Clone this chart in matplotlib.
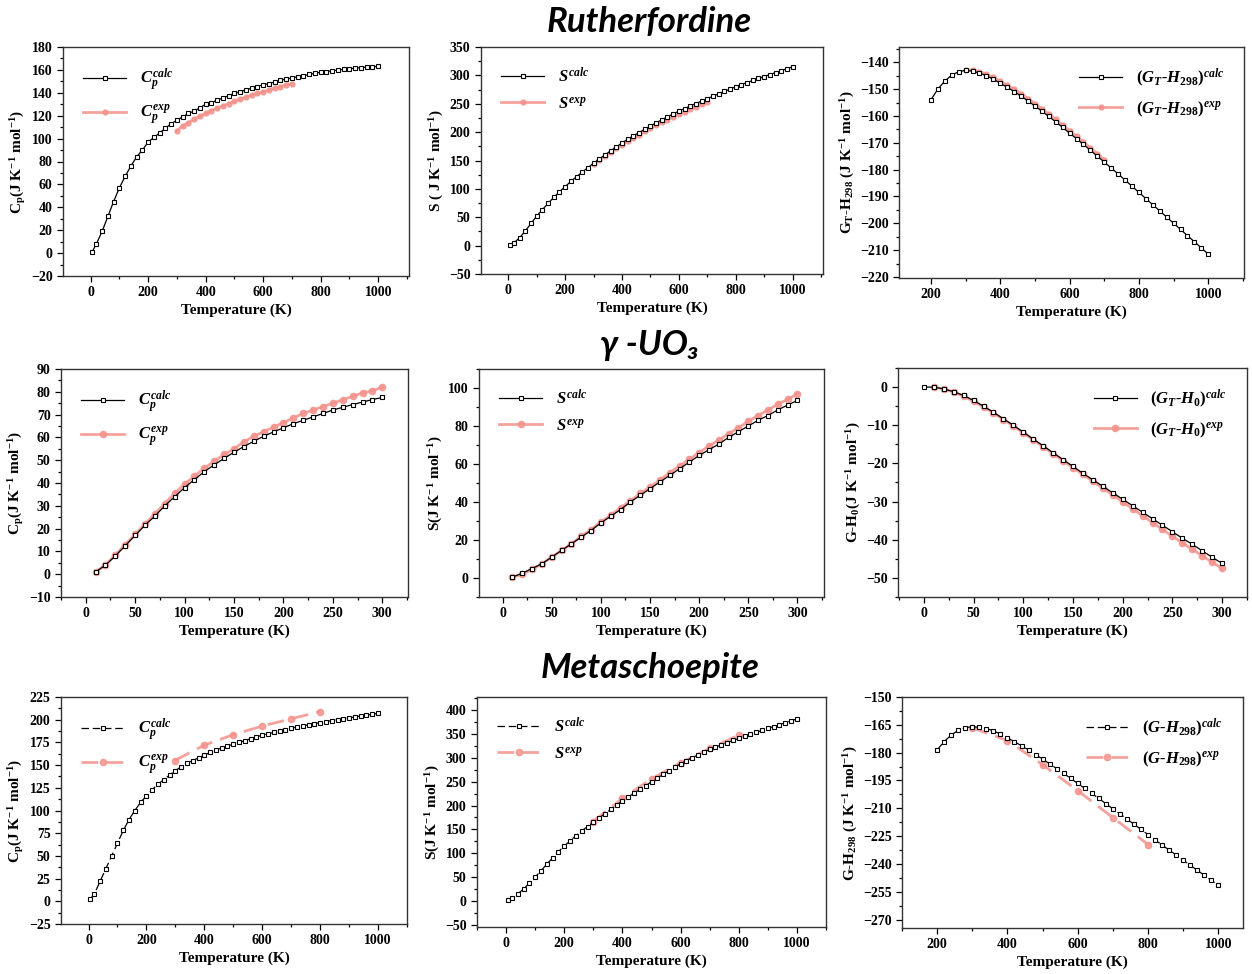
import matplotlib
matplotlib.use("Agg")
import matplotlib.pyplot as plt
from matplotlib.ticker import MultipleLocator, AutoMinorLocator

plt.rcParams['font.family'] = 'Liberation Serif'
plt.rcParams['font.weight'] = 'bold'
plt.rcParams['axes.labelweight'] = 'bold'
plt.rcParams['mathtext.fontset'] = 'custom'
plt.rcParams['mathtext.rm'] = 'Liberation Serif:bold'
plt.rcParams['mathtext.it'] = 'Liberation Serif:bold:italic'
plt.rcParams['mathtext.bf'] = 'Liberation Serif:bold'
plt.rcParams['mathtext.default'] = 'rm'

# ---------------- data ----------------
# Rutherfordine
ru_T = [5] + list(range(20, 1001, 20))
ru_T_exp = list(range(300, 701, 20))
ru_cp_calc = [1, 8, 19, 32, 45, 57, 67, 76, 84, 90, 97,
              101, 105, 109, 113, 116, 119, 122, 124, 127, 130,
              131.5, 133.5, 135.5, 137.5, 139.5, 141, 142.5, 144, 145.5, 147,
              148, 149.5, 151, 152, 153, 154, 155, 156, 157, 158,
              158.6, 159.2, 159.8, 160.4, 161, 161.5, 162, 162.4, 162.8, 163]
ru_cp_exp = [107, 111, 114, 117, 119.5, 122, 124.5, 126.5, 128.5, 130.5, 132.5,
             134.5, 136, 138, 139.5, 141, 142.5, 144, 145.5, 147, 148]
ru_s_calc = [1, 5, 14, 26, 39, 52, 63.5, 74.5, 85, 95, 104,
             113, 121.5, 129.5, 137.5, 145, 152.6, 159.9, 167, 174.1, 181,
             187.3, 193.4, 199.3, 205.2, 211, 216.4, 221.7, 226.9, 232, 237,
             241.5, 246, 250.4, 254.7, 259, 263.3, 267.5, 271.7, 275.9, 280,
             283.7, 287.4, 291, 294.5, 298, 301.5, 304.9, 308.3, 311.7, 315]
ru_s_exp = [143, 150.5, 157.5, 164.5, 171.5, 178, 184, 190, 195.8, 201.5, 207,
            212.2, 217.3, 222.2, 227, 231.7, 236.2, 240.6, 244.9, 249.1, 253.2]
ru_T_g = list(range(200, 1001, 20))
ru_g_calc = [-154, -150, -147, -144.8, -143.5, -143, -143.3, -144, -145, -146.3, -147.8,
             -149.3, -150.9, -152.6, -154.4, -156.3, -158.2, -160.2, -162.2, -164.3, -166.4,
             -168.5, -170.6, -172.8, -175, -177.2, -179.4, -181.6, -183.9, -186.2, -188.5,
             -190.8, -193.1, -195.4, -197.7, -200, -202.3, -204.6, -206.9, -209.2, -211.5]
ru_g_exp = [-142.8, -143, -143.5, -144.4, -145.6, -147, -148.5, -150, -151.7, -153.5, -155.4,
            -157.3, -159.3, -161.3, -163.4, -165.5, -167.6, -169.7, -171.9, -174.1, -176.3]

# gamma-UO3
uo_T = list(range(10, 301, 10))
uo_T_g = list(range(0, 301, 10))
uo_cp_calc = [1, 4, 8, 12.5, 17, 21.5, 25.5, 30, 34, 38,
              41.5, 45, 48, 50.8, 53.5, 56, 58.3, 60.5, 62.4, 64.2,
              66, 67.5, 69, 70.5, 72, 73.2, 74.4, 75.5, 76.6, 77.5]
uo_cp_exp = [1, 4, 8.5, 13, 17.5, 22, 26.5, 31, 35.5, 39.5,
             43, 46.5, 49.5, 52.5, 55, 58, 60.5, 62.5, 64.5, 66.5,
             68.5, 70.5, 72, 73.5, 75, 76.5, 78, 79.5, 80.5, 82]
uo_s_calc = [0.5, 2.5, 5, 7.5, 11, 14.5, 18, 21.5, 25, 29,
             32.5, 36, 40, 43.5, 47, 50.5, 54, 57.5, 61, 64.5,
             67.5, 70.5, 74, 77, 80, 83, 85.5, 88.5, 91, 93.5]
uo_s_exp = [0.3, 2, 4.5, 7.5, 11, 14.5, 18, 22, 25.5, 29.5,
            33, 37, 40.5, 44.5, 48, 51.5, 55.5, 59, 62.5, 66,
            69.5, 72.5, 76, 79, 82.5, 85.5, 88.5, 91.5, 94, 97]
uo_g_calc = [0, 0, -0.5, -1.2, -2.2, -3.5, -5, -6.6, -8.3, -10,
             -11.8, -13.6, -15.4, -17.2, -19, -20.8, -22.6, -24.3, -26, -27.7,
             -29.4, -31.1, -32.8, -34.5, -36.2, -37.9, -39.6, -41.2, -42.9, -44.6, -46.2]
uo_g_exp = [0, -0.5, -1.3, -2.4, -3.7, -5.2, -6.8, -8.5, -10.2, -12,
            -13.8, -15.6, -17.5, -19.3, -21.1, -22.9, -24.7, -26.5, -28.3, -30.1,
            -31.9, -33.7, -35.5, -37.3, -39.1, -40.8, -42.5, -44.2, -45.9, -47.5]

# Metaschoepite
me_T = [5] + list(range(20, 1001, 20))
me_T_exp = [298, 400, 500, 600, 700, 800]
me_cp_calc = [2, 8, 22, 36, 50, 64, 78, 90, 100, 109, 116,
              123, 129, 134, 139, 144, 148, 152, 155, 158, 161,
              164, 166.5, 169, 171, 173, 175, 177, 179, 181, 183,
              184.5, 186, 187.5, 189, 190.5, 192, 193.2, 194.4, 195.6, 196.8,
              198, 199, 200, 201, 202, 203, 204, 205, 206, 207]
me_cp_exp = [155, 172, 183.5, 193, 201, 209]
me_s_calc = [1, 5, 14, 25, 37, 50, 63, 77, 90, 103, 115,
             126, 136.5, 146.5, 156, 165, 174, 183, 192, 201, 210,
             218, 226, 234, 242, 250, 258, 265.5, 273, 280.5, 288,
             294.5, 300.5, 306.5, 312.3, 318, 322.8, 327.5, 332.2, 336.7, 341,
             345.3, 349.6, 353.8, 358, 362, 366, 370, 374, 378, 382]
me_s_exp = [166, 215, 256, 290, 320, 348]
me_T_g = list(range(200, 1001, 20))
me_g_calc = [-178.5, -174, -170.5, -168, -166.5, -166, -166.3, -167, -168.2, -170, -172,
             -174.1, -176.3, -178.5, -181, -183.5, -186, -188.6, -191.2, -193.9, -196.6,
             -199.3, -202, -204.7, -207.5, -210.3, -213, -215.8, -218.6, -221.4, -224.2,
             -227, -229.8, -232.5, -235.2, -238, -240.7, -243.4, -246.1, -248.8, -251.5]
me_g_exp = [-166.5, -173.5, -186.5, -200.5, -215, -229.5]

PINK = '#f4928c'
W, H = 1252, 974

fig = plt.figure(figsize=(W / 100, H / 100), dpi=100)


def make_ax(l, r, t, b):
    return fig.add_axes([l / W, 1 - b / H, (r - l) / W, (b - t) / H])


def style(ax, xlim, ylim, xstep, ystep, ylabel):
    ax.set_xlim(*xlim)
    ax.set_ylim(*ylim)
    ax.xaxis.set_major_locator(MultipleLocator(xstep))
    ax.yaxis.set_major_locator(MultipleLocator(ystep))
    ax.xaxis.set_minor_locator(AutoMinorLocator(2))
    ax.yaxis.set_minor_locator(AutoMinorLocator(2))
    ax.tick_params(which='both', direction='out', labelsize=10, width=0.9)
    ax.tick_params(which='major', length=4)
    ax.tick_params(which='minor', length=2.5)
    for s in ax.spines.values():
        s.set_linewidth(1.0)
        s.set_color('#333333')
    ax.set_xlabel('Temperature (K)', fontsize=11, labelpad=3)
    ax.set_ylabel(ylabel, fontsize=11, labelpad=2)


def plot_pair(ax, xc, yc, xe, ye, lc, le, loc, dashed=False, ms=3.5, ems=4.5):
    ls = (0, (6, 3)) if dashed else '-'
    ax.plot(xc, yc, color='black', lw=0.9, ls=ls, marker='s', ms=ms,
            mfc='white', mec='black', mew=0.8, label=lc, zorder=3)
    ax.plot(xe, ye, color=PINK, lw=2.0, ls=ls, marker='o', ms=ems,
            mfc=PINK, mec=PINK, alpha=0.85, label=le, zorder=2)
    ax.legend(loc=loc, frameon=False, handlelength=2.6,
              borderaxespad=0.8, labelspacing=0.6,
              prop={'family': 'Liberation Serif', 'weight': 'bold', 'style': 'italic', 'size': 12})


ylab_cp = r'C$_p$(J K$^{-1}$ mol$^{-1}$)'

# Row 1: Rutherfordine
ax = make_ax(63, 409, 47, 276)
plot_pair(ax, ru_T, ru_cp_calc, ru_T_exp, ru_cp_exp,
          r'$\mathit{C_p^{calc}}$', r'$\mathit{C_p^{exp}}$', 'upper left', ems=3.5)
style(ax, (-96, 1107), (-20, 180), 200, 20, ylab_cp)

ax = make_ax(481, 823, 47, 274)
plot_pair(ax, ru_T, ru_s_calc, ru_T_exp, ru_s_exp,
          r'$\mathit{S^{calc}}$', r'$\mathit{S^{exp}}$', 'upper left', ems=3.5)
style(ax, (-96, 1107), (-50, 350), 200, 50, r'S ( J K$^{-1}$ mol$^{-1}$)')

ax = make_ax(899, 1244, 47, 278)
plot_pair(ax, ru_T_g, ru_g_calc, ru_T_exp, ru_g_exp,
          r'$\mathit{(G_T}$-$\mathit{H_{298})^{calc}}$',
          r'$\mathit{(G_T}$-$\mathit{H_{298})^{exp}}$', 'upper right', ems=3.5)
style(ax, (108, 1103), (-220.4, -134.3), 200, 10, r'G$_T$-H$_{298}$ (J K$^{-1}$ mol$^{-1}$)')

# Row 2: gamma-UO3
ax = make_ax(61, 408, 369, 597)
plot_pair(ax, uo_T, uo_cp_calc, uo_T, uo_cp_exp,
          r'$\mathit{C_p^{calc}}$', r'$\mathit{C_p^{exp}}$', 'upper left')
style(ax, (-25, 326), (-10, 90), 50, 10, ylab_cp)

ax = make_ax(479, 824, 369, 597)
plot_pair(ax, uo_T, uo_s_calc, uo_T, uo_s_exp,
          r'$\mathit{S^{calc}}$', r'$\mathit{S^{exp}}$', 'upper left')
style(ax, (-24, 327), (-10, 110), 50, 20, r'S(J K$^{-1}$ mol$^{-1}$)')

ax = make_ax(898, 1247, 368, 597)
plot_pair(ax, uo_T_g, uo_g_calc, uo_T, uo_g_exp,
          r'$\mathit{(G_T}$-$\mathit{H_0)^{calc}}$',
          r'$\mathit{(G_T}$-$\mathit{H_0)^{exp}}$', 'upper right')
style(ax, (-26, 325), (-55, 5), 50, 10, r'G-H$_0$(J K$^{-1}$ mol$^{-1}$)')

# Row 3: Metaschoepite
ax = make_ax(61, 407, 697, 924)
plot_pair(ax, me_T, me_cp_calc, me_T_exp, me_cp_exp,
          r'$\mathit{C_p^{calc}}$', r'$\mathit{C_p^{exp}}$', 'upper left', dashed=True)
style(ax, (-95, 1100), (-25, 225), 200, 25, ylab_cp)

ax = make_ax(477, 826, 697, 927)
plot_pair(ax, me_T, me_s_calc, me_T_exp, me_s_exp,
          r'$\mathit{S^{calc}}$', r'$\mathit{S^{exp}}$', 'upper left', dashed=True, ms=2.5)
style(ax, (-100, 1100), (-55, 428), 200, 50, r'S(J K$^{-1}$ mol$^{-1}$)')

ax = make_ax(902, 1243, 697, 928)
plot_pair(ax, me_T_g, me_g_calc, me_T_exp, me_g_exp,
          r'$\mathit{(G}$-$\mathit{H_{298})^{calc}}$',
          r'$\mathit{(G}$-$\mathit{H_{298})^{exp}}$', 'upper right', dashed=True)
style(ax, (100, 1070), (-274.5, -150), 200, 15, r'G-H$_{298}$ (J K$^{-1}$ mol$^{-1}$)')

# Section titles
tfont = dict(family=['Lato', 'DejaVu Sans'], weight='bold', style='italic',
             size=25, ha='center', va='center')
fig.text(649 / W, 1 - 22 / H, 'Rutherfordine', **tfont)
fig.text(650 / W, 1 - 345 / H, 'γ -UO₃', **tfont)
fig.text(650 / W, 1 - 668 / H, 'Metaschoepite', **tfont)

fig.savefig('out.png', dpi=100)
